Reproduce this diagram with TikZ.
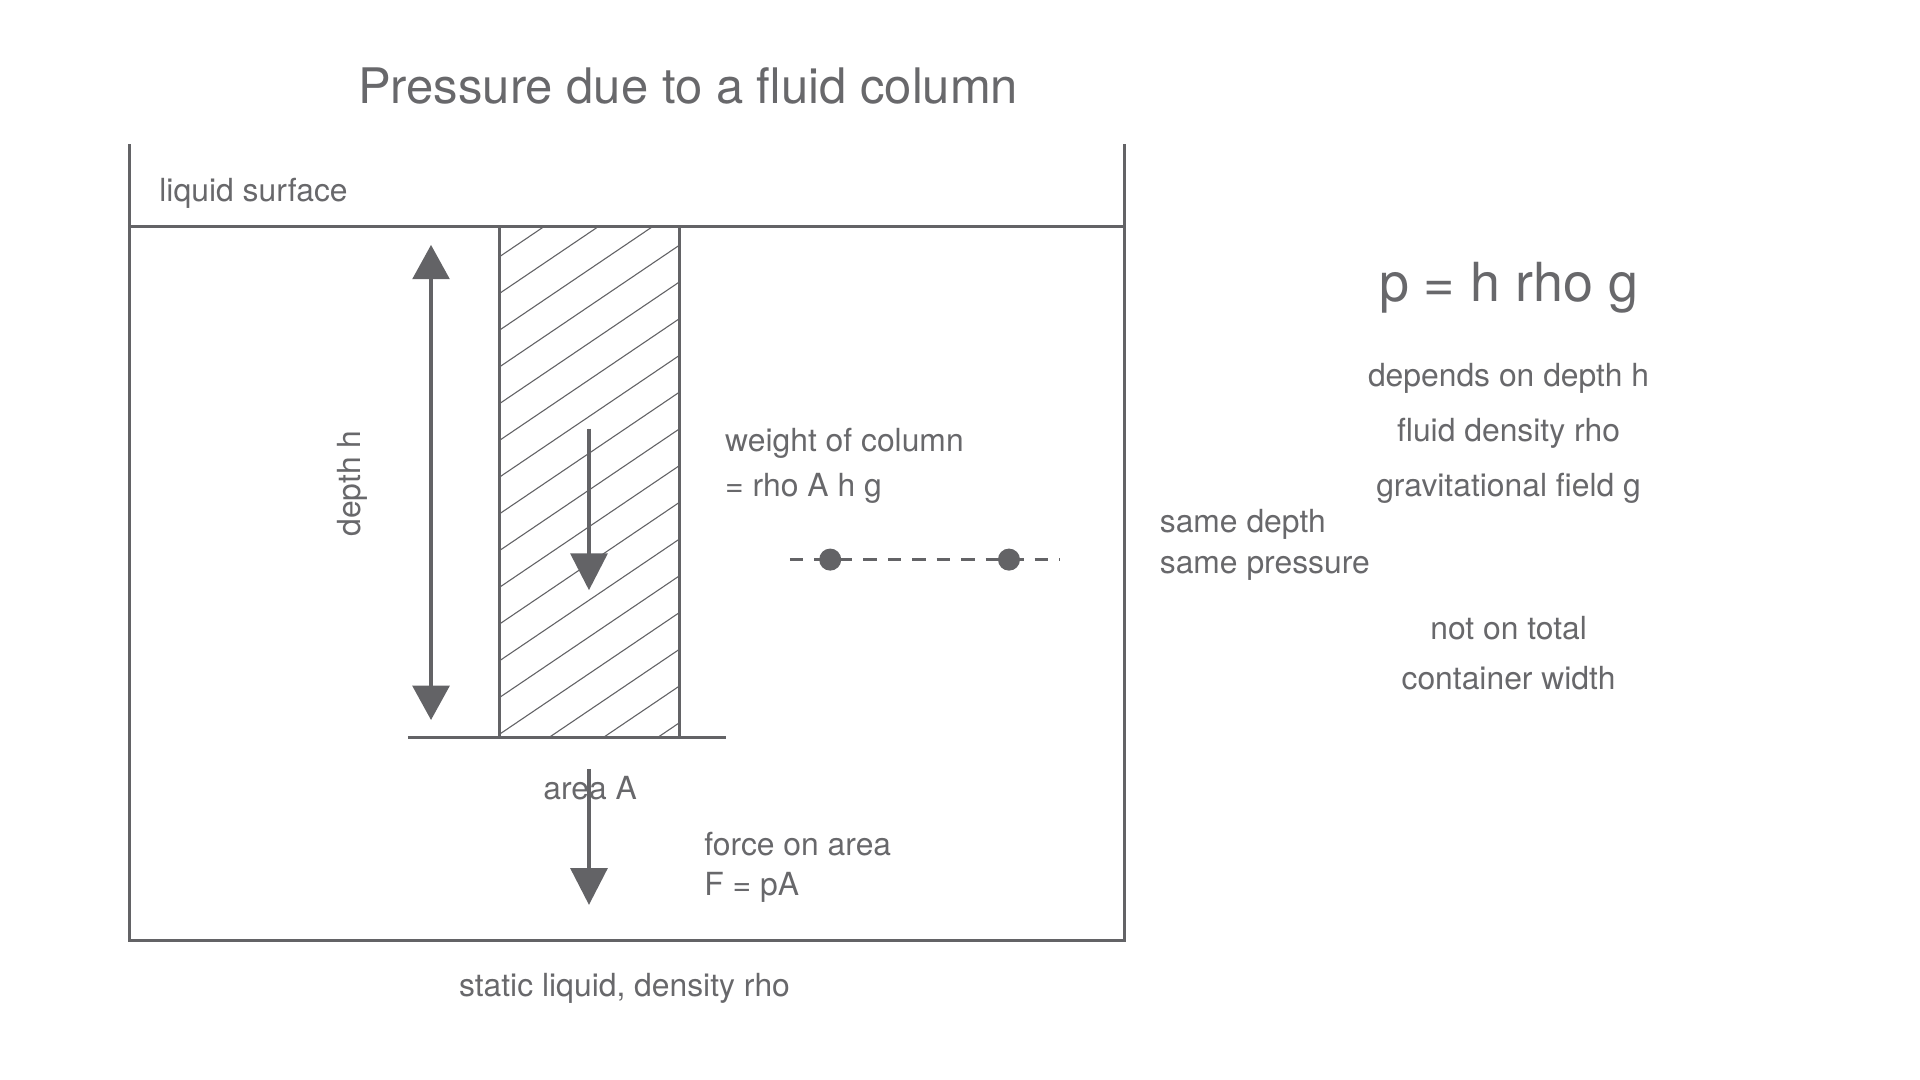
\documentclass[tikz,border=0pt]{standalone}
\usepackage{fontspec}
\setmainfont{TeX Gyre Heros}
\usetikzlibrary{arrows.meta}
\definecolor{ink}{HTML}{636366}
\definecolor{txt}{HTML}{68686B}
\begin{document}
\begin{tikzpicture}[
                x=1pt, y=-1pt,
                lbl/.style = {text=txt, font=\fontsize{26}{30}\selectfont, inner sep=0pt},
                wall/.style = {draw=ink, line width=2.6pt},
                big/.style = {-{Triangle[width=30pt,length=30pt]}, draw=ink, fill=ink, line width=3pt},
                dot/.style = {circle, fill=ink, minimum size=18pt, inner sep=0pt}
            ]
            \useasboundingbox (0,0) rectangle (1568,882);
            \node[lbl, font=\fontsize{40}{46}\selectfont] (title) at (562,70) {Pressure due to a fluid column};
            % container
            \draw[wall] (106,118) -- (106,768) -- (918,768) -- (918,118);
            \draw[wall] (106,185) -- (918,185);
            \node[lbl, anchor=west] (surf) at (130,158) {liquid surface};
            % column
            \begin{scope}
                \clip (408,185) rectangle (555,602);
                \foreach \k in {0,...,24}
                    \draw[ink, line width=0.9pt] (400,185+30*\k) -- (570,185+30*\k-115);
            \end{scope}
            \draw[wall] (408,185) rectangle (555,602);
            \draw[wall] (333,602) -- (593,602);
            % depth
            \coordinate (dtop) at (352,200);
            \coordinate (dbot) at (352,588);
            \draw[big, {Triangle[width=30pt,length=28pt]}-{Triangle[width=30pt,length=28pt]}] (dtop) -- (dbot);
            \node[lbl, rotate=90] (depth) at (288,395) {depth h};
            % weight
            \coordinate (wtop) at (481,350);
            \coordinate (wbot) at (481,482);
            \draw[big] (wtop) -- (wbot);
            \node[lbl, anchor=west] (weight) at (592,362) {weight of column};
            \node[lbl, anchor=west] (wform) at (592,399) {= rho A h g};
            % same depth
            \coordinate (dl) at (645,457);
            \coordinate (dr) at (866,457);
            \draw[ink, line width=2pt, dash pattern=on 11pt off 9pt] (dl) -- (dr);
            \node[dot] (p1) at (678,457) {};
            \node[dot] (p2) at (824,457) {};
            % force
            \coordinate (ftop) at (481,628);
            \coordinate (fbot) at (481,739);
            \draw[big] (ftop) -- (fbot);
            \node[lbl] (area) at (482,644) {area A};
            \node[lbl, anchor=west] (force) at (575,689) {force on area};
            \node[lbl, anchor=west] (fform) at (575,725) {F = pA};
            \node[lbl] (static) at (510,807) {static liquid, density rho};
            % right side
            \node[lbl, font=\fontsize{44}{50}\selectfont] (law) at (1232,235) {p = h rho g};
            \node[lbl] (dep) at (1232,309) {depends on depth h};
            \node[lbl] (rho) at (1232,354) {fluid density rho};
            \node[lbl] (grav) at (1232,399) {gravitational field g};
            \node[lbl, anchor=west] (same1) at (947,428) {same depth};
            \node[lbl, anchor=west] (same2) at (947,464) {same pressure};
            \node[lbl] (not1) at (1232,513) {not on total};
            \node[lbl] (not2) at (1232,554) {container width};
\end{tikzpicture}
\end{document}
